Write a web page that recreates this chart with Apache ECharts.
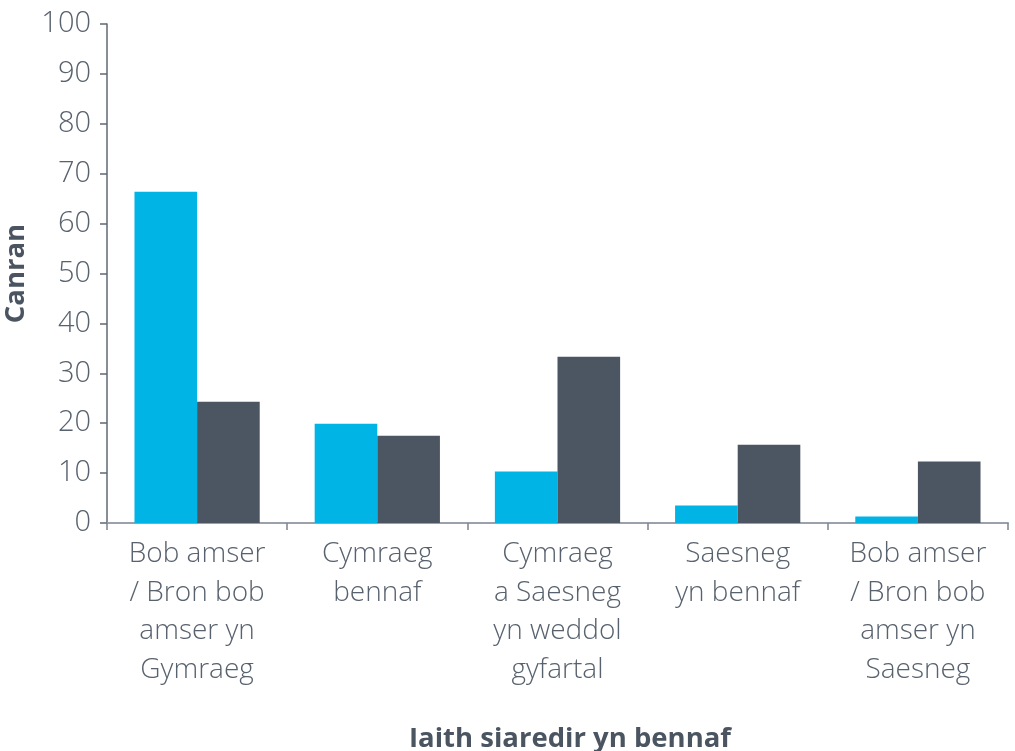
<!DOCTYPE html>
<html>
<head>
<meta charset="utf-8">
<script src="https://cdn.jsdelivr.net/npm/echarts@6/dist/echarts.min.js"></script>
<style>
  html, body { margin: 0; padding: 0; background: #ffffff; }
  #chart { width: 1015px; height: 751px; }
</style>
</head>
<body>
<div id="chart"></div>
<script>
// Language spoken most often, percentage of respondents in two groups
const categories = [
  'Bob amser\n/ Bron bob\namser yn\nGymraeg',
  'Cymraeg\nbennaf',
  'Cymraeg\na Saesneg\nyn weddol\ngyfartal',
  'Saesneg\nyn bennaf',
  'Bob amser\n/ Bron bob\namser yn\nSaesneg'
];
const seriesA = [66.4, 19.9, 10.3, 3.5, 1.3];
const seriesB = [24.3, 17.5, 33.3, 15.7, 12.3];
const yTicks = { min: 0, max: 100, interval: 10 };
const yAxisTitle = 'Canran';
const xAxisTitle = 'Iaith siaredir yn bennaf';

const textColor = '#58626e';
const titleColor = '#4a5561';
const fontFamily = '"Open Sans", "Liberation Sans", sans-serif';

const chart = echarts.init(document.getElementById('chart'), null, { renderer: 'canvas' });
chart.setOption({
  animation: false,
  backgroundColor: '#ffffff',
  grid: { left: 107, right: 7, top: 24, bottom: 228, outerBoundsMode: 'none', containLabel: false },
  xAxis: {
    type: 'category',
    data: categories,
    name: xAxisTitle,
    nameLocation: 'middle',
    nameGap: 202,
    nameTextStyle: { color: titleColor, fontSize: 27.5, fontWeight: 'bold', fontFamily: fontFamily, padding: [0, 0, 0, 25] },
    axisLine: { lineStyle: { color: '#9aa1aa', width: 2 } },
    axisTick: { show: true, length: 7, lineStyle: { color: '#7b8490', width: 1.5 } },
    axisLabel: {
      color: textColor, fontSize: 28, fontFamily: fontFamily, fontWeight: 300,
      lineHeight: 38.5, margin: 12, interval: 0
    }
  },
  yAxis: {
    type: 'value',
    min: yTicks.min, max: yTicks.max, interval: yTicks.interval,
    name: yAxisTitle,
    nameLocation: 'middle',
    nameGap: 66,
    nameTextStyle: { color: titleColor, fontSize: 27.5, fontWeight: 'bold', fontFamily: fontFamily },
    splitLine: { show: false },
    axisLine: { show: true, lineStyle: { color: '#5f6873', width: 1.5 } },
    axisTick: { show: true, length: 7, lineStyle: { color: '#5f6873', width: 1.5 } },
    axisLabel: { color: textColor, fontSize: 29, fontFamily: fontFamily, fontWeight: 300, margin: 16 }
  },
  series: [
    {
      type: 'bar', data: seriesA, barGap: '0%', barCategoryGap: '30.5%',
      itemStyle: { color: '#00b4e6' }
    },
    {
      type: 'bar', data: seriesB, barGap: '0%', barCategoryGap: '30.5%',
      itemStyle: { color: '#4b5662' }
    }
  ]
});
</script>
</body>
</html>
